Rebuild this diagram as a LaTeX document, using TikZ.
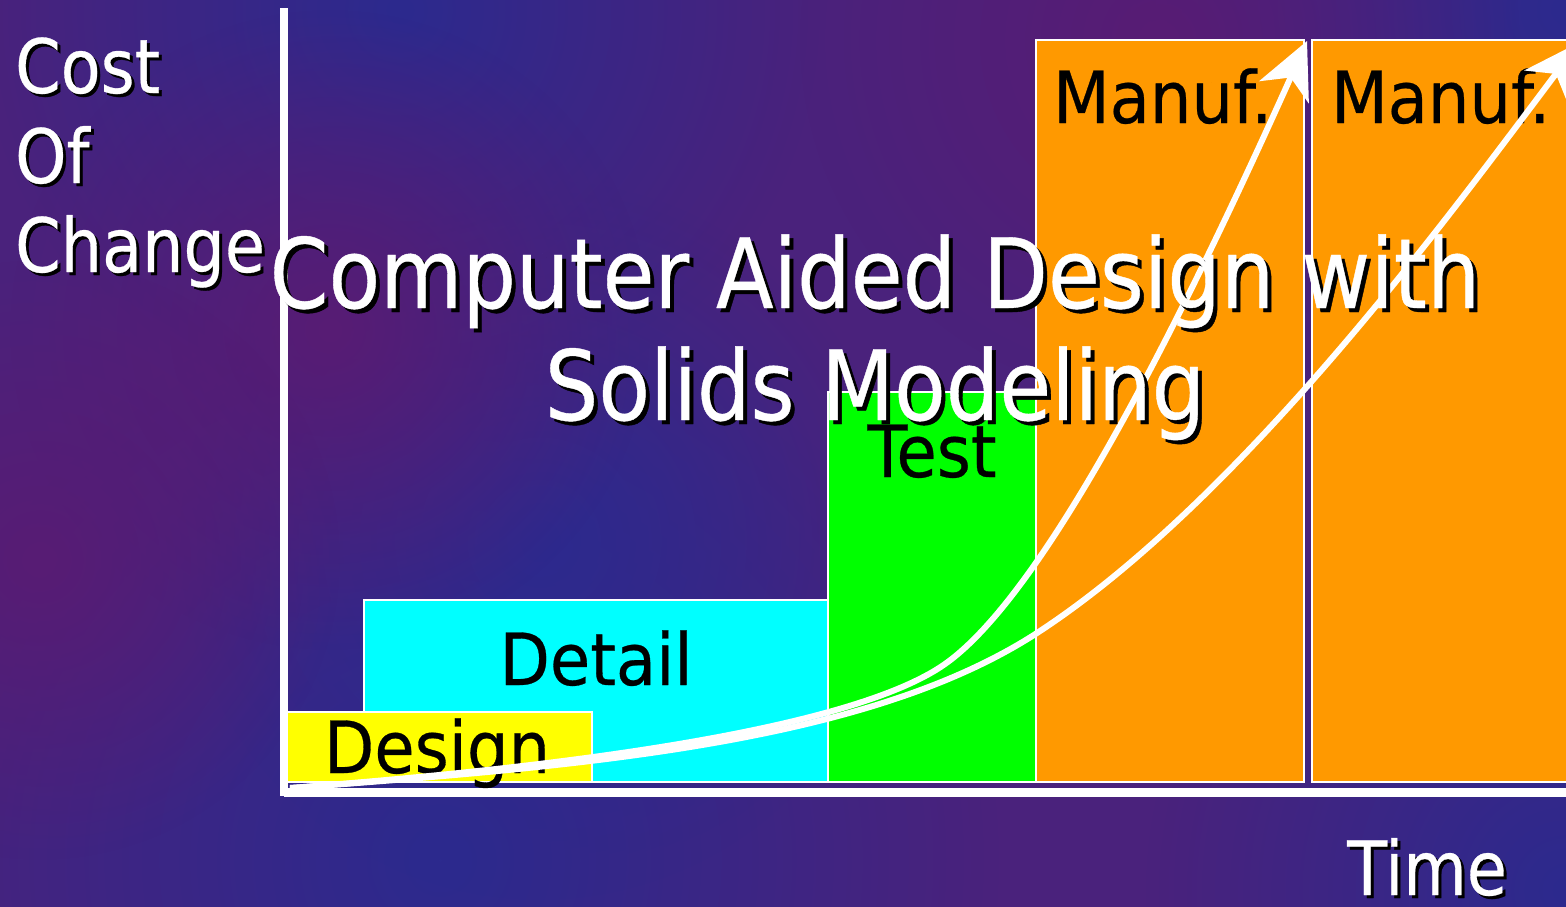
\documentclass[tikz,border=0pt]{standalone}
\usepackage{fontspec}
\setmainfont{DejaVu Sans}[FakeStretch=0.87, FakeBold=0.4]
\newfontfamily\blockfont{DejaVu Sans}[FakeStretch=0.91, FakeBold=0.4]
\usetikzlibrary{arrows.meta,fadings}

\definecolor{bgbase}{RGB}{74,34,124}
\definecolor{bgblue}{RGB}{44,42,142}
\definecolor{bgmag}{RGB}{88,28,116}
\definecolor{boxyellow}{RGB}{255,255,0}
\definecolor{boxcyan}{RGB}{0,255,255}
\definecolor{boxgreen}{RGB}{0,255,0}
\definecolor{boxorange}{RGB}{255,153,0}

\tikzfading[name=blob, inner color=transparent!0, outer color=transparent!100]

\tikzset{
  phasebox/.style={draw=white, line width=1.5pt},
  phaselabel/.style={font=\blockfont\fontsize{72}{80}\selectfont, text=black, inner sep=0pt},
  axisline/.style={draw=white, line width=8pt},
  costcurve/.style={draw=white, line width=6pt, line join=round,
    -{Stealth[length=56pt, width=54pt, inset=16pt]}},
  sidelabel/.style={font=\fontsize{75}{80}\selectfont, inner sep=0pt},
  titletext/.style={font=\fontsize{97}{100}\selectfont, inner sep=0pt},
  glow/.style={text=white},
  shadowtext/.style={text=black},
  patch/.style={path fading=blob},
}

\begin{document}
\begin{tikzpicture}[x=1pt, y=-1pt]
  \useasboundingbox (0,0) rectangle (1566,906);
  \clip (0,0) rectangle (1566,906);

  % mottled purple/blue backdrop
  \fill[bgbase] (-10,-10) rectangle (1576,916);
  \fill[bgblue, patch] (440,860) circle (560);
  \fill[bgblue, patch] (540,540) circle (360);
  \fill[bgblue, patch] (400,10) circle (420);
  \fill[bgblue, patch] (1566,10) circle (460);
  \fill[bgblue, patch] (1566,890) circle (420);
  \fill[bgmag, patch] (1160,40) circle (360);
  \fill[bgmag, patch] (330,330) circle (320);
  \fill[bgmag, patch] (40,560) circle (300);

  % phase blocks
  \filldraw[phasebox, fill=boxcyan]   (364,600) rectangle (828,782);
  \filldraw[phasebox, fill=boxyellow] (284,712) rectangle (592,782);
  \filldraw[phasebox, fill=boxgreen]  (828,392) rectangle (1036,782);
  \filldraw[phasebox, fill=boxorange] (1036,40) rectangle (1304,782);
  \filldraw[phasebox, fill=boxorange] (1312,40) rectangle (1590,782);

  % axes
  \coordinate (ytop) at (283.5,8);
  \coordinate (corner) at (283.5,792.5);
  \coordinate (xend) at (1580,792.5);
  \draw[axisline] (ytop) -- (283.5,796);
  \draw[axisline, line width=9pt] (corner) -- (xend);

  % block labels
  \node[phaselabel, anchor=base] (design) at (437,773) {Design};
  \node[phaselabel, anchor=base] (detail) at (596,685) {Detail};
  \node[phaselabel, anchor=base] (test)   at (932,477) {Test};
  \node[phaselabel, anchor=base west] (manufA) at (1053,123) {Manuf.};
  \node[phaselabel, anchor=base west] (manufB) at (1331,123) {Manuf.};

  % cost-of-change curves
  \coordinate (O)  at (290,788);
  \coordinate (K1) at (945,664);
  \coordinate (T1) at (1307,41);
  \coordinate (K2) at (1037,633);
  \coordinate (T2) at (1580,42);
  \draw[costcurve] (O) .. controls (540,769) and (847,733) .. (K1)
                       .. controls (1043,595) and (1176,333) .. (T1);
  \draw[costcurve] (O) .. controls (590,766) and (869,742) .. (K2)
                       .. controls (1246,497) and (1459,202) .. (T2);

  % axis captions with drop shadow
  \foreach \name/\txt/\yb in {cost/Cost/93, of/Of/183, change/Change/272}{
    \node[sidelabel, shadowtext, anchor=base west] (\name-sh) at (18,\yb+3) {\txt};
    \node[sidelabel, glow, anchor=base west] (\name) at (15,\yb) {\txt};
  }
  \node[sidelabel, shadowtext, anchor=base west] (time-sh) at (1350,898) {Time};
  \node[sidelabel, glow, anchor=base west] (time) at (1347,895) {Time};

  % title with drop shadow
  \node[titletext, shadowtext, anchor=base] (title1-sh) at (879,312) {Computer Aided Design with};
  \node[titletext, glow, anchor=base] (title1) at (875,308) {Computer Aided Design with};
  \node[titletext, shadowtext, anchor=base] (title2-sh) at (879,424) {Solids Modeling};
  \node[titletext, glow, anchor=base] (title2) at (875,420) {Solids Modeling};
\end{tikzpicture}
\end{document}
